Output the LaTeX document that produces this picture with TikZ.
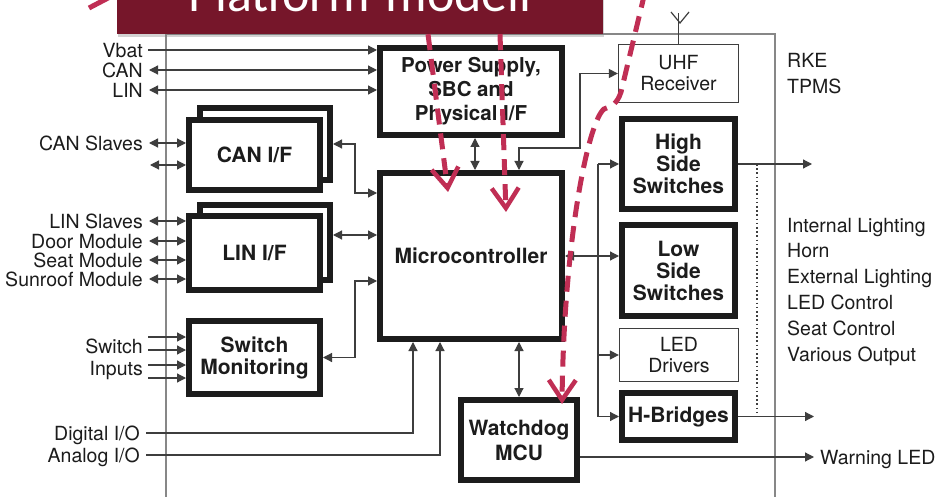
\documentclass[tikz,border=0pt]{standalone}
\usepackage{fontspec}
\setmainfont{TeX Gyre Heros}
\newfontfamily\slidefont{Carlito}
\usepackage{tikz}
\usetikzlibrary{arrows.meta,shadows}
\definecolor{mydark}{RGB}{28,28,28}
\definecolor{mygray}{RGB}{62,62,62}
\definecolor{myframe}{RGB}{135,135,135}
\definecolor{mywine}{RGB}{118,22,42}
\definecolor{mycrimson}{RGB}{192,46,84}

\tikzset{
  thickbox/.style={draw=mydark,line width=6pt,fill=white,align=center,inner sep=0pt,
    text=mydark,font=\fontsize{21}{22}\selectfont\bfseries},
  thinbox/.style={draw=mygray,line width=1.3pt,fill=white,align=center,inner sep=0pt,
    text=mydark,font=\fontsize{19.5}{21}\selectfont},
  lbl/.style={inner sep=0pt,text=mydark,text depth=0pt,font=\fontsize{19.5}{21}\selectfont},
  sig/.style={draw=mygray,line width=1.2pt},
  arr/.style={sig,-{Triangle[length=9pt,width=9pt]}},
  dbl/.style={sig,{Triangle[length=9pt,width=9pt]}-{Triangle[length=9pt,width=9pt]}},
  hint/.style={draw=mycrimson,line width=5pt,dash pattern=on 16pt off 9pt},
  hintarr/.style={hint,-{Straight Barb[length=20pt,width=27pt,line width=4.5pt]}}
}

\begin{document}
\begin{tikzpicture}[x=1pt,y=-1pt]
\useasboundingbox (0,0) rectangle (937,497);
\fill[white] (0,0) rectangle (937,497);

% module frame
\draw[myframe,line width=1.3pt] (166,34) rectangle (775,530);

% main blocks
\node[thickbox,minimum width=182pt,minimum height=87pt,font=\fontsize{20.5}{24}\selectfont\bfseries] (psu) at (471,91.5) {Power Supply,\\SBC and\\Physical I/F};
\node[thickbox,minimum width=182pt,minimum height=166pt] (mc) at (471,256) {Microcontroller};
\node[thickbox,minimum width=116pt,minimum height=80pt,font=\fontsize{21}{25}\selectfont\bfseries] (wd) at (519,440) {Watchdog\\MCU};

% interface blocks (stacked)
\node[thickbox,minimum width=130pt,minimum height=72pt] (canb) at (265,144) {};
\node[thickbox,minimum width=131pt,minimum height=70pt] (canf) at (254.5,155) {CAN I/F};
\node[thickbox,minimum width=130pt,minimum height=75pt] (linb) at (265,242.5) {};
\node[thickbox,minimum width=131pt,minimum height=74pt] (linf) at (254.5,253) {LIN I/F};
\node[thickbox,minimum width=131pt,minimum height=73pt] (sw) at (254.5,357.5) {Switch\\Monitoring};

% output blocks
\node[thinbox,minimum width=120pt,minimum height=58pt] (uhf) at (678.5,73.5) {UHF\\Receiver};
\node[thickbox,minimum width=113pt,minimum height=90pt] (hs) at (678.5,164) {High\\Side\\Switches};
\node[thickbox,minimum width=113pt,minimum height=91pt] (ls) at (678.5,270.5) {Low\\Side\\Switches};
\node[thinbox,minimum width=119pt,minimum height=53pt] (led) at (679,355) {LED\\Drivers};
\node[thickbox,minimum width=113pt,minimum height=47pt] (hb) at (678.5,416.5) {H-Bridges};

% antenna
\coordinate (antfoot) at (680,23);
\draw[sig] (uhf.north) -- ++(0,-31);
\draw[sig] (671,12) -- (antfoot) -- (689,12);

% supply lines
\node[lbl,anchor=east] (vbat) at (143,50) {Vbat};
\node[lbl,anchor=east] (canbus) at (143,70) {CAN};
\node[lbl,anchor=east] (linbus) at (143,90) {LIN};
\draw[arr] ([xshift=5pt]vbat.east) -- (vbat -| psu.west);
\draw[dbl] ([xshift=6pt]canbus.east) -- (canbus -| psu.west);
\draw[dbl] ([xshift=6pt]linbus.east) -- (linbus -| psu.west);

% CAN slaves
\node[lbl,anchor=east] (canslv) at (143,143) {CAN Slaves};
\coordinate (canslv2) at (150,165);
\draw[dbl] ([xshift=6pt]canslv.east) -- (canslv -| canf.west);
\draw[dbl] (canslv2) -- (canslv2 -| canf.west);

% LIN slaves
\foreach \nm/\y/\txt in {linslv/221/LIN Slaves,door/241/Door Module,seat/260/Seat Module,sunroof/279/Sunroof Module}{
  \node[lbl,anchor=east] (\nm) at (143,\y) {\txt};
  \draw[dbl] ([xshift=6pt]\nm.east) -- (\nm -| linf.west);
}

% switch inputs
\node[lbl,anchor=east] (swtxt) at (143,346) {Switch};
\node[lbl,anchor=east] (intxt) at (143,368) {Inputs};
\foreach \y [count=\i] in {337,350,365,378}{
  \coordinate (swin\i) at (148,\y);
  \draw[arr] (swin\i) -- (swin\i -| sw.west);
}

% digital / analog I/O
\node[lbl,anchor=east] (digio) at (140,433) {Digital I/O};
\node[lbl,anchor=east] (anaio) at (140,455) {Analog I/O};
\draw[arr] ([xshift=6pt]digio.east) -| ([xshift=-58pt]mc.south);
\draw[arr] ([xshift=6pt]anaio.east) -| ([xshift=-31pt]mc.south);

% interfaces to microcontroller
\coordinate (canbend) at (355,193);
\draw[dbl] (canb.east) -| (canbend) -- (canbend -| mc.west);
\coordinate (linport) at ([yshift=7.5pt]linb.east);
\draw[dbl] (linport) -- (linport -| mc.west);
\coordinate (swbend) at (355,281);
\draw[dbl] (sw.east) -| (swbend) -- (swbend -| mc.west);

% supply, watchdog, receiver
\draw[dbl] ([xshift=4pt]psu.south) -- ([xshift=4pt]mc.north);
\draw[dbl] (wd.north) -- (wd.north |- mc.south);
\coordinate (uhfbend) at (580,148);
\draw[dbl] (uhf.west) -| (uhfbend) -| ([xshift=48pt]mc.north);

% output stage
\coordinate (bustop) at (598,164);
\coordinate (busled) at (598,355);
\coordinate (busbot) at (598,416.5);
\draw[sig] (bustop) -- (busbot);
\draw[arr] (bustop) -- (hs.west);
\draw[arr] (busled) -- (led.west);
\draw[arr] (busbot) -- (hb.west);
\draw[dbl] (mc.east) -- (mc.east -| ls.west);

\coordinate (hsout) at (812,164);
\coordinate (hbout) at (814,416.5);
\coordinate (tapA) at (757,164);
\coordinate (tapB) at (757,416.5);
\draw[arr] (hs.east) -- (hsout);
\draw[arr] (hb.east) -- (hbout);
\draw[sig,line width=1.3pt,dash pattern=on 1.6pt off 2.6pt] (tapA) -- (tapB);

% output labels
\node[lbl,anchor=west,align=left,font=\fontsize{19.5}{26}\selectfont] (rke) at (787,73) {RKE\\TPMS};
\node[lbl,anchor=west,align=left,font=\fontsize{19.5}{25.8}\selectfont] (loads) at (787,289.5) {Internal Lighting\\Horn\\External Lighting\\LED Control\\Seat Control\\Various Output};

% warning LED
\node[lbl,anchor=west] (wled) at (820,457) {Warning LED};
\draw[arr] ([yshift=-17pt]wd.east) -- ([xshift=-6pt]wled.west);

% slide overlay
\node[fill=mywine,minimum width=486pt,minimum height=80pt,inner sep=0pt,text=white,
  drop shadow={opacity=0.35,shadow xshift=1pt,shadow yshift=-3pt},
  font=\slidefont\fontsize{52}{52}\selectfont] (banner) at (360,-6) {Platform-modell};

\coordinate (hintA) at (448,192);
\coordinate (hintB) at (506,212);
\coordinate (hintC) at (562,404);
\draw[hintarr] ([xshift=68pt]banner.south) -- (hintA);
\draw[hintarr] ([xshift=140pt]banner.south) -- (hintB);
\draw[hintarr] (645,-8) -- (621,92) .. controls (617,104) and (612,106) .. (604,109)
  .. controls (588,122) and (564,240) .. (hintC);
\draw[hint,solid] (89,8) -- (110,-3);

\end{tikzpicture}
\end{document}
